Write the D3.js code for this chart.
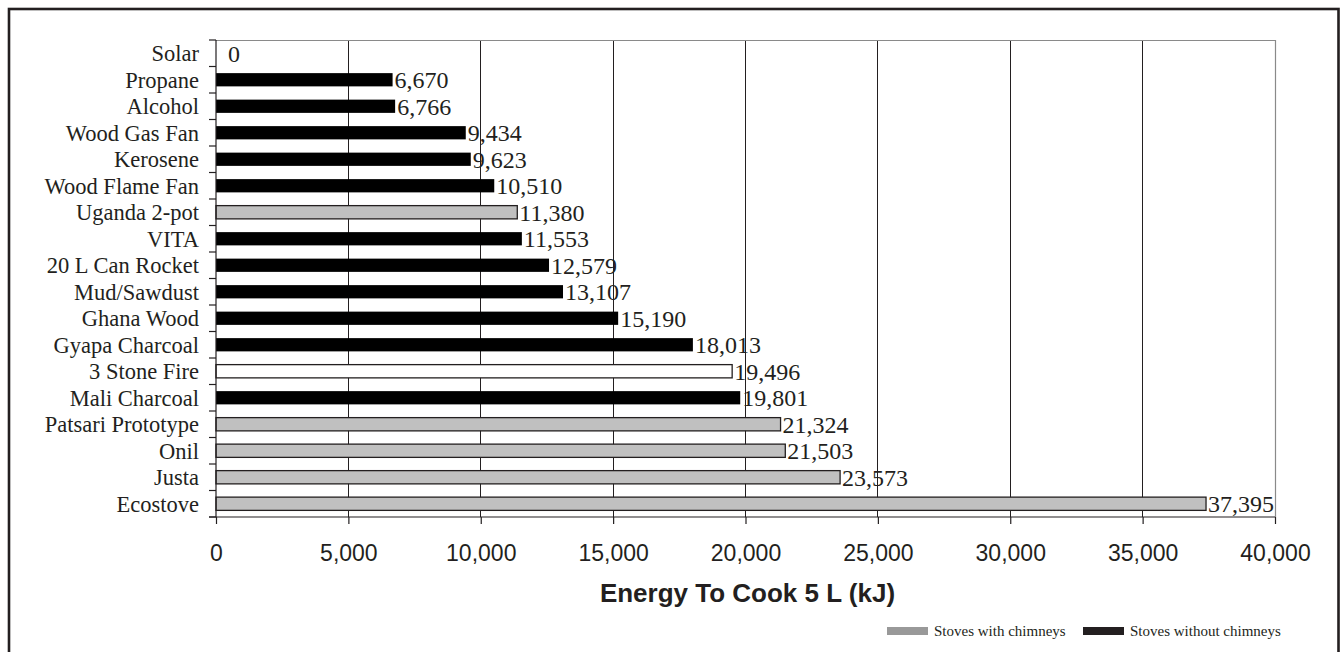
<!DOCTYPE html>
<html>
<head>
<meta charset="utf-8">
<script src="https://cdn.jsdelivr.net/npm/d3@7"></script>
<style>
  html, body { margin: 0; padding: 0; background: #fff; }
  svg { display: block; }
</style>
</head>
<body>
<svg id="chart" width="1340" height="652"></svg>
<script>
// ---- data ----
const categories = ["Solar", "Propane", "Alcohol", "Wood Gas Fan", "Kerosene", "Wood Flame Fan",
  "Uganda 2-pot", "VITA", "20 L Can Rocket", "Mud/Sawdust", "Ghana Wood", "Gyapa Charcoal",
  "3 Stone Fire", "Mali Charcoal", "Patsari Prototype", "Onil", "Justa", "Ecostove"];
const energyValues = [0, 6670, 6766, 9434, 9623, 10510, 11380, 11553, 12579, 13107, 15190,
  18013, 19496, 19801, 21324, 21503, 23573, 37395];
// stove group: "chimney" = with chimney, "none" = without chimney, "open" = open fire baseline
const stoveGroups = ["none", "none", "none", "none", "none", "none", "chimney", "none", "none",
  "none", "none", "none", "open", "none", "chimney", "chimney", "chimney", "chimney"];
const xTicks = [0, 5000, 10000, 15000, 20000, 25000, 30000, 35000, 40000];
const xDomain = [0, 40000];
const axisTitle = "Energy To Cook 5 L (kJ)";
const legendLabels = ["Stoves with chimneys", "Stoves without chimneys"];

// ---- layout ----
const svg = d3.select("#chart");
const plot = { left: 216, right: 1275, top: 40, bottom: 517 };
const ink = "#231f20";
const serif = "'Liberation Serif', 'Times New Roman', serif";
const sans = "'Liberation Sans', Arial, sans-serif";

// outer frame
svg.append("rect")
  .attr("x", 9).attr("y", 9).attr("width", 1329.5).attr("height", 700)
  .attr("fill", "none").attr("stroke", ink).attr("stroke-width", 2.6);

const x = d3.scaleLinear().domain(xDomain).range([plot.left, plot.right]);
const y = d3.scaleBand().domain(categories).range([plot.top, plot.bottom]).paddingInner(0.5).paddingOuter(0.25);
const yb = d3.scaleBand().domain(categories).range([plot.top, plot.bottom]);

// gridlines
svg.append("g").selectAll("line").data(xTicks.filter(t => t > 0 && t < xDomain[1])).join("line")
  .attr("x1", d => x(d)).attr("x2", d => x(d))
  .attr("y1", plot.top).attr("y2", plot.bottom)
  .attr("stroke", ink).attr("stroke-width", 1).attr("shape-rendering", "crispEdges");

// plot frame top/right (gray)
svg.append("path")
  .attr("d", `M${plot.left},${plot.top + 0.5}H${plot.right + 0.5}V${plot.bottom}`)
  .attr("fill", "none").attr("stroke", "#8a8a8a").attr("stroke-width", 1.2);

// bars
const fillFor = g => g === "chimney" ? "#c0c0c0" : g === "open" ? "#ffffff" : "#000000";
svg.append("g").selectAll("rect").data(categories).join("rect")
  .filter((d, i) => energyValues[i] > 0)
  .attr("x", x(0))
  .attr("y", d => y(d))
  .attr("width", d => x(energyValues[categories.indexOf(d)]) - x(0))
  .attr("height", y.bandwidth())
  .attr("fill", d => fillFor(stoveGroups[categories.indexOf(d)]))
  .attr("stroke", d => stoveGroups[categories.indexOf(d)] === "none" ? "none" : ink)
  .attr("stroke-width", 1.3);

// value labels
const fmt = d3.format(",");
svg.append("g").selectAll("text").data(categories).join("text")
  .attr("x", (d, i) => x(energyValues[i]) + (energyValues[i] === 0 ? 12 : 2))
  .attr("y", d => yb(d) + yb.bandwidth() / 2)
  .attr("dy", "0.35em")
  .attr("font-family", serif).attr("font-size", 24).attr("fill", ink)
  .text((d, i) => fmt(energyValues[i]));

// y axis
const yAxisG = svg.append("g").attr("transform", `translate(${plot.left},0)`);
yAxisG.append("line").attr("x1", 0).attr("x2", 0).attr("y1", plot.top).attr("y2", plot.bottom)
  .attr("stroke", ink).attr("stroke-width", 1.2);
const boundaries = categories.map(c => yb(c)).concat([plot.bottom]);
yAxisG.selectAll("line.tick").data(boundaries).join("line").attr("class", "tick")
  .attr("x1", -7).attr("x2", 0).attr("y1", d => d).attr("y2", d => d)
  .attr("stroke", ink).attr("stroke-width", 1.2);
yAxisG.selectAll("text").data(categories).join("text")
  .attr("x", -17).attr("y", d => yb(d) + yb.bandwidth() / 2).attr("dy", "0.35em")
  .attr("text-anchor", "end").attr("font-family", serif).attr("font-size", 22.5).attr("fill", ink)
  .text(d => d);

// x axis
const xAxis = d3.axisBottom(x).tickValues(xTicks).tickFormat(fmt).tickSize(7).tickPadding(21);
const xAxisG = svg.append("g").attr("transform", `translate(0,${plot.bottom})`).call(xAxis);
xAxisG.select(".domain").attr("stroke", ink).attr("stroke-width", 1.2)
  .attr("d", `M${plot.left - 7},0H${plot.right}`);
xAxisG.selectAll(".tick line").attr("stroke", ink).attr("stroke-width", 1.2);
xAxisG.selectAll(".tick text").attr("font-family", sans).attr("font-size", 23).attr("fill", ink);

// axis title
svg.append("text")
  .attr("x", (plot.left + plot.right) / 2 + 2).attr("y", 602)
  .attr("text-anchor", "middle").attr("font-family", sans).attr("font-weight", "bold")
  .attr("font-size", 26).attr("fill", ink).text(axisTitle);

// legend
const legendColors = ["#999999", ink];
const legendX = [887, 1083];
const lg = svg.append("g");
legendLabels.forEach((lab, i) => {
  lg.append("rect").attr("x", legendX[i]).attr("y", 627).attr("width", 41).attr("height", 8)
    .attr("fill", legendColors[i]);
  lg.append("text").attr("x", legendX[i] + 47).attr("y", 631).attr("dy", "0.35em")
    .attr("font-family", serif).attr("font-size", 15).attr("fill", ink).text(lab);
});
</script>
</body>
</html>
